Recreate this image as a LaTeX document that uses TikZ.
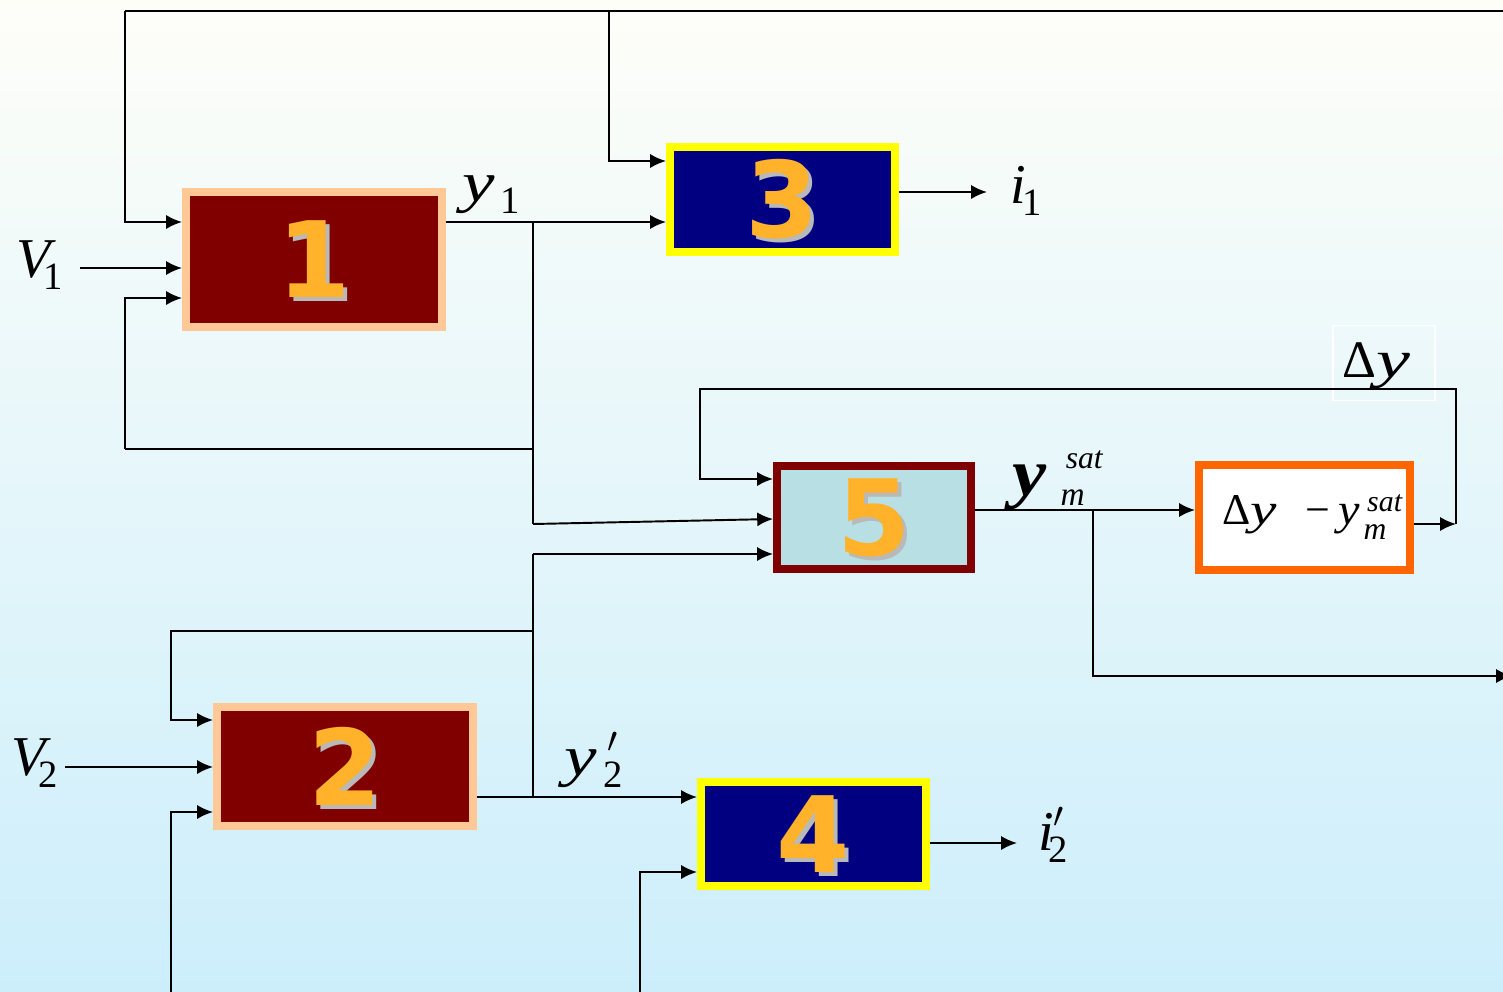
\documentclass[tikz,border=0pt]{standalone}
\usepackage{fontspec}
\setmainfont{Liberation Serif}
\newfontfamily\lserif{Liberation Serif}
\newfontfamily\digfont{DejaVu Sans}
\usetikzlibrary{arrows.meta}
\definecolor{peach}{RGB}{255,200,150}
\definecolor{darkred}{RGB}{128,0,0}
\definecolor{navyb}{RGB}{0,0,128}
\definecolor{yel}{RGB}{255,255,0}
\definecolor{lblue}{RGB}{184,224,228}
\definecolor{orng}{RGB}{255,102,0}
\definecolor{digcol}{RGB}{255,178,42}
\definecolor{shad}{RGB}{185,185,185}
\definecolor{bgtop}{RGB}{254,254,249}
\definecolor{bgmid}{RGB}{236,247,252}
\definecolor{bgbot}{RGB}{204,238,251}
\newcommand\sbs[1]{\raisebox{-7pt}{\lserif\fontsize{22}{22}\selectfont\upshape #1}}
\newcommand\prm[1]{\makebox[0pt][l]{\hspace{#1}\raisebox{13pt}{\fontsize{22}{22}\selectfont$\prime$}}}
\newcommand\wy[1]{\scalebox{#1}[1]{y}}
\begin{document}
\begin{tikzpicture}[x=0.02cm,y=-0.02cm,
  wire/.style={line width=1.1pt},
  arr/.style={line width=1.1pt,-{Latex[length=9pt,width=8pt]}},
  blk/.style n args={4}{draw=#1,fill=#2,minimum width=#3,minimum height=#4,line width=0.16cm,inner sep=0pt},
  digs/.style={font=\digfont\bfseries\fontsize{60}{60}\selectfont,inner sep=0pt},
  numblk/.style n args={5}{blk={#1}{#2}{#3}{#4},digs,text=digcol,
     path picture={\node[digs,text=shad] at ([shift={(0.08cm,-0.08cm)}]path picture bounding box.center) {#5};}},
  lab/.style={font=\lserif\fontsize{32}{32}\selectfont\itshape,inner sep=0pt,anchor=base west}]
\useasboundingbox (0,0) rectangle (1503,991);
\shade[top color=bgtop,middle color=bgmid,bottom color=bgbot] (0,0) rectangle (1503,991);

% blocks
\node[numblk={peach}{darkred}{5.12cm}{2.7cm}{1}] (box1) at (314,259.5) {1};
\node[numblk={yel}{navyb}{4.5cm}{2.1cm}{3}] (box3) at (782.5,199.5) {3};
\node[numblk={darkred}{lblue}{3.88cm}{2.06cm}{5}] (box5) at (874,517.5) {5};
\node[numblk={peach}{darkred}{5.12cm}{2.38cm}{2}] (box2) at (345,766.5) {2};
\node[numblk={yel}{navyb}{4.5cm}{2.08cm}{4}] (box4) at (813.5,834) {4};
\node[blk={orng}{white}{4.22cm}{2.1cm},font=\lserif] (box6) at (1304.5,517.5)
  {{\fontsize{25}{25}\selectfont\upshape Δ}{\fontsize{25}{25}\selectfont\itshape\wy{1.35}}\hspace{16pt}{\fontsize{25}{25}\selectfont −}\hspace{5pt}{\fontsize{25}{25}\selectfont\itshape\wy{1.1}}\kern2pt\makebox[0pt][l]{\hspace{2pt}\raisebox{7pt}{\fontsize{17}{17}\selectfont\itshape sat}}\raisebox{-9pt}{\fontsize{18}{18}\selectfont\itshape m}\hspace{14pt}};

% Δy label with faint frame
\node[draw=white,line width=0.8pt,minimum width=2.04cm,minimum height=1.5cm] (dyl) at (1384,363) {};
\node[lab] (dyt) at (1342,377) {{\upshape\fontsize{30}{30}\selectfont Δ}{\fontsize{30}{30}\selectfont\wy{1.45}}};

% coordinates
\coordinate (tR) at (1503,11);
\coordinate (tL) at (125,11);
\coordinate (tM) at (609,11);
\coordinate (c3) at (609,161);
\coordinate (j1) at (533,222);
\coordinate (v1s) at (80,268);
\coordinate (fL) at (125,449);
\coordinate (fJ) at (533,449);
\coordinate (c298) at (125,298);
\coordinate (s5) at (533,524);
\coordinate (e519) at (600,519);
\coordinate (dTL) at (700,389);
\coordinate (c479) at (700,479);
\coordinate (dR) at (1456,524);
\coordinate (jm) at (1093,510);
\coordinate (rE) at (1512,676);
\coordinate (k5) at (533,554);
\coordinate (k2) at (533,631);
\coordinate (kL) at (171,631);
\coordinate (c720) at (171,720);
\coordinate (v2s) at (65,767);
\coordinate (b2) at (171,1000);
\coordinate (c812) at (171,812);
\coordinate (j2) at (533,797);
\coordinate (b4) at (640,1000);
\coordinate (c872) at (640,872);
\coordinate (i1e) at (987,192);
\coordinate (i2e) at (1017,843);

% connectors
\draw[wire] (tR) -- (tL);
\draw[arr] (tL) |- (box1.west |- j1);
\draw[arr] (tM) |- (box3.west |- c3);
\draw[arr] (v1s) -- (box1.west |- v1s);
\draw[wire] (fJ) -- (fL);
\draw[arr] (fL) |- (box1.west |- c298);
\draw[arr] (box1.east |- j1) -- (box3.west |- j1);
\draw[wire] (j1) -- (s5);
\draw[arr] (s5) -- (box5.west |- e519);
\draw[arr] (box3.east |- i1e) -- (i1e);
\draw[arr] (box5.east |- jm) -- (box6.west |- jm);
\draw[arr] (jm) |- (rE);
\draw[arr] (box6.east |- dR) -- (dR);
\draw[arr] (dR) |- (dTL) |- (box5.west |- c479);
\draw[arr] (k5) -- (box5.west |- k5);
\draw[wire] (k5) -- (j2);
\draw[arr] (k2) -- (kL) |- (box2.west |- c720);
\draw[arr] (v2s) -- (box2.west |- v2s);
\draw[arr] (b2) |- (box2.west |- c812);
\draw[arr] (box2.east |- j2) -- (box4.west |- j2);
\draw[arr] (b4) |- (box4.west |- c872);
\draw[arr] (box4.east |- i2e) -- (i2e);

% labels
\node[lab] (lv1) at (16,277) {V\kern-4pt\sbs{1}};
\node[lab] (ly1) at (462,201) {\wy{1.3}\kern3pt\sbs{1}};
\node[lab] (li1) at (1010,203) {i\kern-2pt\sbs{1}};
\node[lab] (lv2) at (11,775) {V\kern-4pt\sbs{2}};
\node[lab] (ly2) at (564,775) {\wy{1.3}\kern4pt\prm{2pt}\sbs{2}};
\node[lab] (li2) at (1038,850) {i\kern-3pt\prm{3pt}\sbs{2}};
\node[lab] (lym) at (1012,495) {{\fontsize{38}{38}\selectfont\bfseries\wy{1.15}}\kern8pt\makebox[0pt][l]{\hspace{3pt}\raisebox{15pt}{\fontsize{18}{18}\selectfont sat}}\raisebox{-6pt}{\fontsize{19}{19}\selectfont m}};
\end{tikzpicture}
\end{document}
